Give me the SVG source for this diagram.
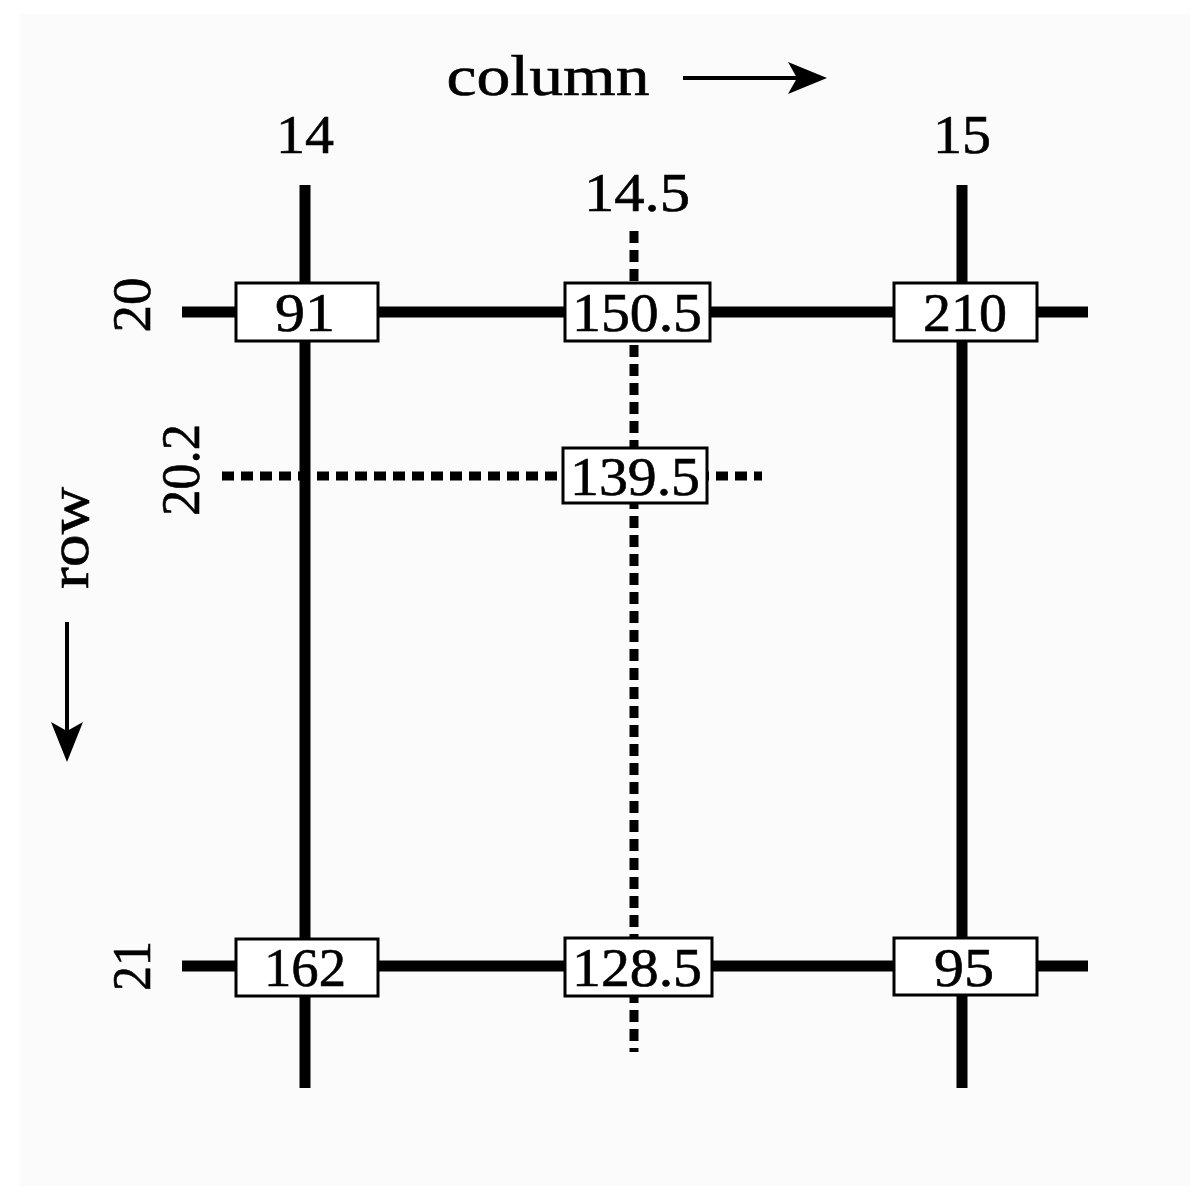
<svg xmlns="http://www.w3.org/2000/svg" width="1201" height="1193" viewBox="0 0 1201 1193">
<defs>
<style>
.t{fill:#000;text-anchor:middle;stroke:#000;stroke-width:0.6}
.v{font-size:54px}
.solid{stroke:#000;stroke-width:11;fill:none}
.dot{stroke:#000;stroke-width:9;stroke-dasharray:12 7;fill:none}
.box{fill:#fff;stroke:#000;stroke-width:3}
</style>
</defs>
<rect width="1201" height="1193" fill="#fff"/>
<rect x="20" y="14" width="1170" height="1172" fill="#fafbfa"/>
<rect x="0" y="0" width="730" height="14" fill="#fff"/>

<g font-family="'Liberation Serif', serif">
<g id="axes">
<text class="t" x="548" y="95" font-size="58" textLength="203" lengthAdjust="spacingAndGlyphs">column</text>
<line x1="683" y1="78" x2="800" y2="78" stroke="#000" stroke-width="4"/>
<path d="M788,62 L827,78 L788,94 L797,78 Z" fill="#000"/>
<text class="t" x="0" y="0" font-size="58" transform="translate(88,538) rotate(-90)" textLength="102" lengthAdjust="spacingAndGlyphs">row</text>
<line x1="67" y1="622" x2="67" y2="735" stroke="#000" stroke-width="4"/>
<path d="M51,722 L67,762 L83,722 L67,731 Z" fill="#000"/>
</g>

<g id="labels">
<text class="t v" x="305" y="153" textLength="58" lengthAdjust="spacingAndGlyphs">14</text>
<text class="t v" x="962" y="153" textLength="58" lengthAdjust="spacingAndGlyphs">15</text>
<text class="t v" x="637" y="211" textLength="106" lengthAdjust="spacingAndGlyphs">14.5</text>
<text class="t v" transform="translate(150,305) rotate(-90)" textLength="55" lengthAdjust="spacingAndGlyphs">20</text>
<text class="t v" transform="translate(199,470) rotate(-90)" textLength="92" lengthAdjust="spacingAndGlyphs">20.2</text>
<text class="t v" transform="translate(150,966) rotate(-90)" textLength="50" lengthAdjust="spacingAndGlyphs">21</text>
</g>

<g id="connectors">
<line class="solid" x1="305" y1="185" x2="305" y2="1088" stroke-width="13"/>
<line class="solid" x1="962" y1="185" x2="962" y2="1088" stroke-width="13"/>
<line class="solid" x1="182" y1="312" x2="1088" y2="312"/>
<line class="solid" x1="182" y1="966" x2="1088" y2="966"/>
<line class="dot" x1="634" y1="231" x2="634" y2="1052"/>
<line class="dot" x1="222" y1="476" x2="762" y2="476" stroke-width="8" stroke-dasharray="12 5"/>
</g>

<g id="n91"><rect class="box" x="236" y="283" width="142" height="58"/><text class="t v" x="305" y="331" textLength="60" lengthAdjust="spacingAndGlyphs">91</text></g>
<g id="n150_5"><rect class="box" x="565" y="283" width="145" height="58"/><text class="t v" x="637" y="331" textLength="130" lengthAdjust="spacingAndGlyphs">150.5</text></g>
<g id="n210"><rect class="box" x="894" y="283" width="143" height="58"/><text class="t v" x="965" y="331" textLength="84" lengthAdjust="spacingAndGlyphs">210</text></g>
<g id="n139_5"><rect class="box" x="563" y="448" width="144" height="55"/><text class="t v" x="635" y="495" textLength="130" lengthAdjust="spacingAndGlyphs">139.5</text></g>
<g id="n162"><rect class="box" x="236" y="939" width="142" height="57"/><text class="t v" x="305" y="986" textLength="82" lengthAdjust="spacingAndGlyphs">162</text></g>
<g id="n128_5"><rect class="box" x="565" y="938" width="147" height="58"/><text class="t v" x="637" y="986" textLength="130" lengthAdjust="spacingAndGlyphs">128.5</text></g>
<g id="n95"><rect class="box" x="894" y="938" width="143" height="57"/><text class="t v" x="964" y="986" textLength="60" lengthAdjust="spacingAndGlyphs">95</text></g>
</g>
</svg>
